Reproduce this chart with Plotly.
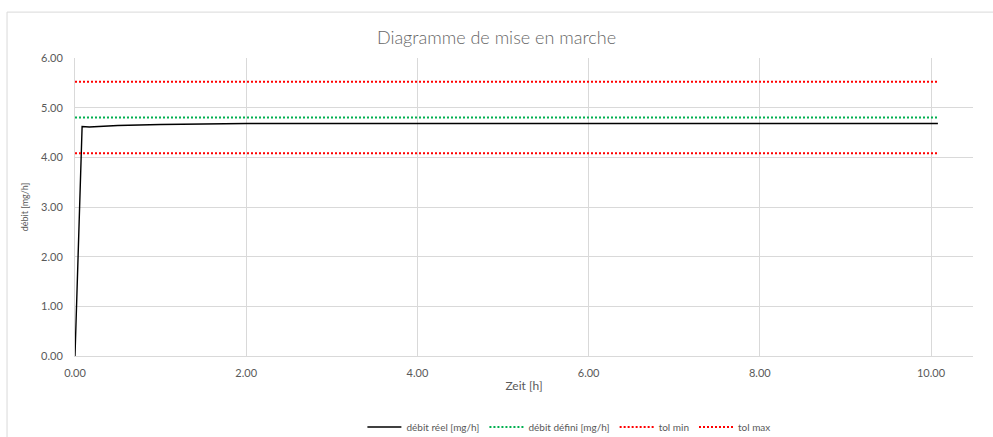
import plotly.graph_objects as go

# Measured flow over time
time_h = [0.0, 0.083, 0.167, 0.25, 0.5, 1.0, 1.5, 2.0, 3.0, 4.0, 5.0, 6.0, 7.0, 8.0, 9.0, 10.08]
flow_real = [0.0, 4.62, 4.61, 4.62, 4.64, 4.66, 4.67, 4.68, 4.68, 4.68, 4.68, 4.68, 4.68, 4.68, 4.68, 4.68]

# Set point and tolerance band
span_h = [0.0, 10.08]
flow_set = [4.80, 4.80]
tol_min = [4.08, 4.08]
tol_max = [5.52, 5.52]

x_ticks = [0, 2, 4, 6, 8, 10]
y_ticks = [0, 1, 2, 3, 4, 5, 6]

GRAY = "#595959"
GRID = "#d9d9d9"
FONT = "Lato, 'Open Sans', sans-serif"
DOTS = "2px,2px"

fig = go.Figure()
fig.add_trace(go.Scatter(x=time_h, y=flow_real, mode="lines", name="débit réel [mg/h]",
                         line=dict(color="#000000", width=1.4)))
fig.add_trace(go.Scatter(x=span_h, y=flow_set, mode="lines", name="débit défini [mg/h]",
                         line=dict(color="#00B050", width=2, dash=DOTS)))
fig.add_trace(go.Scatter(x=span_h, y=tol_min, mode="lines", name="tol min",
                         line=dict(color="#FF0000", width=2, dash=DOTS)))
fig.add_trace(go.Scatter(x=span_h, y=tol_max, mode="lines", name="tol max",
                         line=dict(color="#FF0000", width=2, dash=DOTS)))

fig.update_layout(
    width=993, height=437,
    margin=dict(l=75, r=20, t=58, b=81, autoexpand=False),
    paper_bgcolor="white", plot_bgcolor="white",
    font=dict(family=FONT, color=GRAY, size=11),
    title=dict(text="Diagramme de mise en marche", x=0.5, xanchor="center",
               y=0.913, yanchor="middle",
               font=dict(size=18, color="#666666", family=FONT, weight=300)),
    showlegend=True,
    legend=dict(orientation="h", x=0.55, xanchor="center",
                yref="container", y=0.023, yanchor="middle",
                font=dict(size=10, color=GRAY), itemwidth=34, traceorder="normal"),
    xaxis=dict(range=[0, 10.49], tickvals=x_ticks, tickformat=".2f",
               showgrid=True, gridcolor=GRID, gridwidth=1,
               showline=True, linecolor=GRID, linewidth=1, zeroline=False,
               ticks="outside", ticklen=7, tickcolor="rgba(255,255,255,0)",
               tickfont=dict(size=11, color=GRAY), automargin=False,
               title=dict(text="Zeit [h]", font=dict(size=12, color=GRAY), standoff=3)),
    yaxis=dict(range=[0, 6], tickvals=y_ticks, tickformat=".2f",
               showgrid=True, gridcolor=GRID, gridwidth=1,
               showline=True, linecolor=GRID, linewidth=1, zeroline=False,
               ticks="outside", ticklen=9, tickcolor="rgba(255,255,255,0)",
               tickfont=dict(size=11, color=GRAY), automargin=False,
               title=dict(text="débit [mg/h]", font=dict(size=9, color=GRAY), standoff=10)),
)

# Chart frame (left and top edges)
fig.add_shape(type="line", xref="paper", yref="paper", x0=-0.0757, x1=-0.0757, y0=1.154, y1=-0.30,
              line=dict(color=GRID, width=1))
fig.add_shape(type="line", xref="paper", yref="paper", x0=-0.0757, x1=1.05, y0=1.154, y1=1.154,
              line=dict(color=GRID, width=1))

fig.write_html("out.html")
